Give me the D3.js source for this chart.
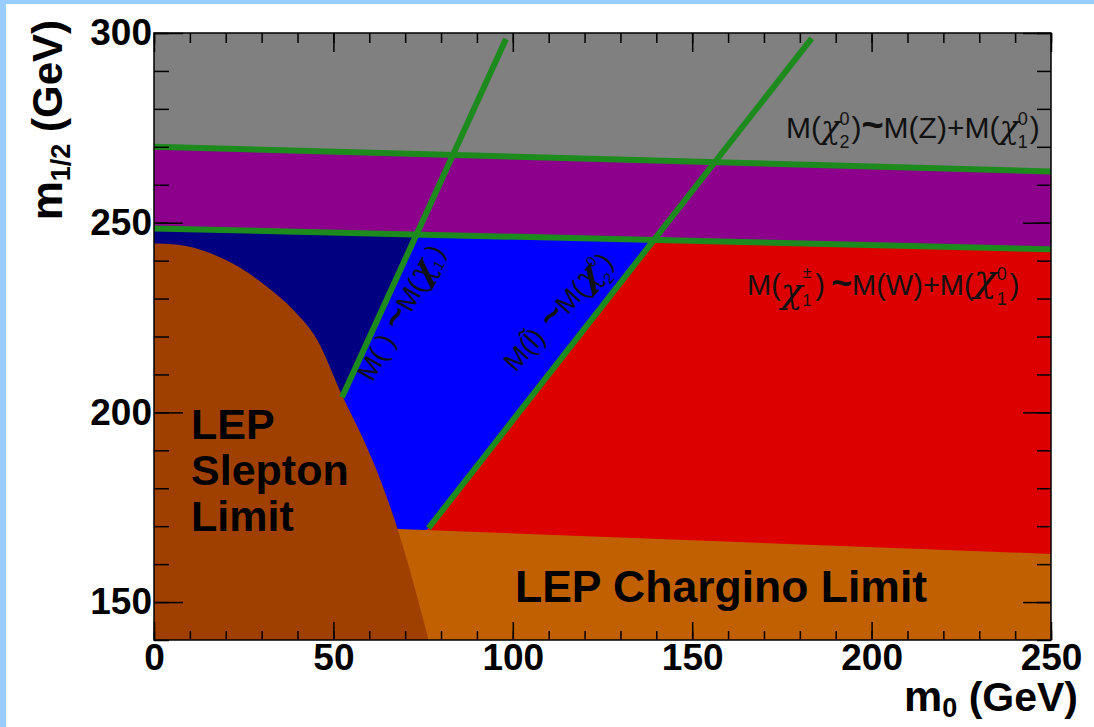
<!DOCTYPE html>
<html>
<head>
<meta charset="utf-8">
<script src="https://cdn.jsdelivr.net/npm/d3@7"></script>
<style>
  body { margin: 0; background: #fff; }
  svg { display: block; }
  text { font-family: "Liberation Sans", Arial, sans-serif; }
  .chi { font-family: "DejaVu Serif", serif; font-style: italic; }
</style>
</head>
<body>
<svg id="chart" width="1094" height="727"></svg>
<script>
// axis ranges and ticks (GeV)
const xDomain = [0, 250];
const yDomain = [140, 300];
const xMajor = [0, 50, 100, 150, 200, 250];
const yMajor = [150, 200, 250, 300];
const xMinor = d3.range(0, 251, 10);
const yMinor = d3.range(140, 301, 10);

// region boundaries, [m0, m1/2]
const upperLine = [[0, 270], [250, 263.5]];      // M(chi2) ~ M(Z)+M(chi1)
const lowerLine = [[0, 248.5], [250, 243]];      // M(chi+-) ~ M(W)+M(chi1)
const diag1 = [[52.4, 204], [98.1, 298.4]];      // M(slepton) ~ M(chi1)
const diag2 = [[76.5, 169.5], [183.3, 298.6]];   // M(slepton) ~ M(chi2)
const charginoEdge = [[0, 171.7], [250, 162.7]];
const sleptonEdge = [[0, 244.5], [6.7, 244.2], [15.6, 242], [24, 238.1], [31.5, 233.1],
  [38.8, 227], [45.5, 219.1], [52.4, 204.5], [57.5, 194.6], [63.1, 182.2],
  [67.8, 169.5], [72.3, 155], [76.5, 140]];

const svg = d3.select("#chart");
const W = 1094, H = 727;
const pL = 154, pR = 1051, pT = 33, pB = 640;

svg.append("rect").attr("width", W).attr("height", H).attr("fill", "#fff");
svg.append("rect").attr("width", W).attr("height", 4).attr("fill", "#99ccff");
svg.append("rect").attr("width", 6).attr("height", H).attr("fill", "#99ccff");

const x = d3.scaleLinear().domain(xDomain).range([pL, pR]);
const y = d3.scaleLinear().domain(yDomain).range([pB, pT]);

const defs = svg.append("defs");
defs.append("clipPath").attr("id", "plot")
  .append("rect").attr("x", pL).attr("y", pT)
  .attr("width", pR - pL).attr("height", pB - pT);

const below = d3.area().x(d => x(d[0])).y0(y(yDomain[0])).y1(d => y(d[1]));
defs.append("clipPath").attr("id", "belowLower")
  .append("path").attr("d", below(lowerLine));

// x of a straight line at height yv
function xAt(line, yv) {
  const [a, b] = line;
  return a[0] + (yv - a[1]) * (b[0] - a[0]) / (b[1] - a[1]);
}
function rightOf(line) {
  return [[xAt(line, yDomain[0]), yDomain[0]], [xAt(line, yDomain[1]), yDomain[1]],
          [xDomain[1], yDomain[1]], [xDomain[1], yDomain[0]]];
}
const poly = d3.line().x(d => x(d[0])).y(d => y(d[1]));

const g = svg.append("g").attr("clip-path", "url(#plot)");
g.append("rect").attr("x", pL).attr("y", pT)
  .attr("width", pR - pL).attr("height", pB - pT).attr("fill", "#808080");
g.append("path").attr("d", below(upperLine)).attr("fill", "#8c008c");
g.append("path").attr("d", below(lowerLine)).attr("fill", "#000080");
const lowGrp = g.append("g").attr("clip-path", "url(#belowLower)");
lowGrp.append("path").attr("d", poly(rightOf(diag1)) + "Z").attr("fill", "#0000ff");
lowGrp.append("path").attr("d", poly(rightOf(diag2)) + "Z").attr("fill", "#dd0000");
g.append("path").attr("d", below(charginoEdge)).attr("fill", "#c06000");
g.append("path").attr("d", below.curve(d3.curveMonotoneX)(sleptonEdge)).attr("fill", "#a04000");

const green = "#1d8a1d";
[upperLine, lowerLine, diag1, diag2].forEach(l => {
  g.append("path").attr("d", poly(l)).attr("stroke", green)
    .attr("stroke-width", 6).attr("fill", "none");
});

// frame
svg.append("rect").attr("x", pL).attr("y", pT)
  .attr("width", pR - pL).attr("height", pB - pT)
  .attr("fill", "none").attr("stroke", "#000").attr("stroke-width", 1.5);

function styleAxis(sel) {
  sel.select(".domain").remove();
  sel.selectAll("line").attr("stroke", "#000").attr("stroke-width", 1.5);
  sel.selectAll("text").attr("font-size", 37).attr("font-weight", "bold")
    .attr("fill", "#000").attr("font-family", "Liberation Sans, Arial, sans-serif");
}
const noLab = () => "";
svg.append("g").attr("transform", `translate(0,${pB})`)
  .call(d3.axisBottom(x).tickValues(xMinor).tickSize(-9).tickFormat(noLab)).call(styleAxis);
svg.append("g").attr("transform", `translate(0,${pB})`)
  .call(d3.axisBottom(x).tickValues(xMajor).tickSize(-18).tickPadding(4)).call(styleAxis);
svg.append("g").attr("transform", `translate(0,${pT})`)
  .call(d3.axisTop(x).tickValues(xMinor).tickSize(-10).tickFormat(noLab)).call(styleAxis);
svg.append("g").attr("transform", `translate(0,${pT})`)
  .call(d3.axisTop(x).tickValues(xMajor).tickSize(-19).tickFormat(noLab)).call(styleAxis);
svg.append("g").attr("transform", `translate(${pL},0)`)
  .call(d3.axisLeft(y).tickValues(yMinor).tickSize(-15).tickFormat(noLab)).call(styleAxis);
svg.append("g").attr("transform", `translate(${pL},0)`)
  .call(d3.axisLeft(y).tickValues(yMajor).tickSize(-29).tickPadding(2)).call(styleAxis);
svg.append("g").attr("transform", `translate(${pR},0)`)
  .call(d3.axisRight(y).tickValues(yMinor).tickSize(-14).tickFormat(noLab)).call(styleAxis);
svg.append("g").attr("transform", `translate(${pR},0)`)
  .call(d3.axisRight(y).tickValues(yMajor).tickSize(-28).tickFormat(noLab)).call(styleAxis);

// rich text: pieces [text, size, shift, dx, weight, class]
function rich(sel, pieces) {
  let cur = 0;
  pieces.forEach(p => {
    const [t, size, shift = 0, dx = 0, weight = "normal", cls = null] = p;
    const s = sel.append("tspan").text(t).attr("font-size", size)
      .attr("dy", shift - cur).attr("dx", dx).attr("font-weight", weight);
    if (cls) s.attr("class", cls);
    cur = shift;
  });
  return sel;
}

// axis titles
rich(svg.append("text").attr("x", 1078).attr("y", 711).attr("text-anchor", "end"),
  [["m", 43, 0, 0, "bold"], ["0", 27, 6, 0, "bold"], [" (GeV)", 41, 0, 0, "bold"]]);
rich(svg.append("text").attr("transform", "translate(62,20) rotate(-90)")
  .attr("text-anchor", "end"),
  [["m", 44, 0, 0, "bold"], ["1/2", 27, 8, 0, "bold"], [" (GeV)", 42, 0, 0, "bold"]]);

// region labels
const big = (sx, sy, size, lines) => {
  lines.forEach((t, i) => svg.append("text").attr("x", sx).attr("y", sy + i * 46)
    .attr("font-size", size).attr("font-weight", "bold").text(t));
};
big(191, 439, 43, ["LEP", "Slepton", "Limit"]);
big(515, 602, 44.5, ["LEP Chargino Limit"]);

const ink = "#111";
rich(svg.append("text").attr("x", 786).attr("y", 138).attr("fill", ink), [
  ["M(", 30], ["χ", 32, 0, 0, "normal", "chi"], ["0", 18, -13, -1], ["2", 18, 10, -10], [")", 30, 0, 2],
  ["~", 38, 0, 0, "bold"], ["M(Z)+M(", 30], ["χ", 32, 0, 0, "normal", "chi"], ["0", 18, -13, -1],
  ["1", 18, 10, -10], [")", 30, 0, 2]]);
rich(svg.append("text").attr("x", 747).attr("y", 295).attr("fill", ink), [
  ["M(", 29], ["χ", 36, 8, 0, "normal", "chi"], ["±", 16, -17, 0], ["1", 16, 11, -9], [")", 29, 0, 4],
  [" ~", 36, 0, -4, "bold"], ["M(W)+M(", 29], ["χ", 38, -4, 0, "normal", "chi"], ["0", 18, -15, 0],
  ["1", 18, 10, -10], [")", 29, 0, 3]]);

rich(svg.append("text").attr("transform", "translate(409,317) rotate(-61)")
  .attr("text-anchor", "middle").attr("fill", ink), [
  ["M(     )", 27], [" ~", 36, 0, 0, "bold"], ["M(", 27], ["χ", 34, 0, 0, "bold", "chi"],
  ["1", 15, 6, -2], [")", 27, 0, 2]]);
rich(svg.append("text").attr("transform", "translate(565,318) rotate(-48)")
  .attr("text-anchor", "middle").attr("fill", ink), [
  ["M(l\u0303)", 27], [" ~", 36, 0, 0, "bold"], ["M(", 27], ["χ", 34, 0, 0, "bold", "chi"],
  ["0", 15, -13, -2], ["2", 15, 11, -9], [")", 27, 0, 2]]);
</script>
</body>
</html>
